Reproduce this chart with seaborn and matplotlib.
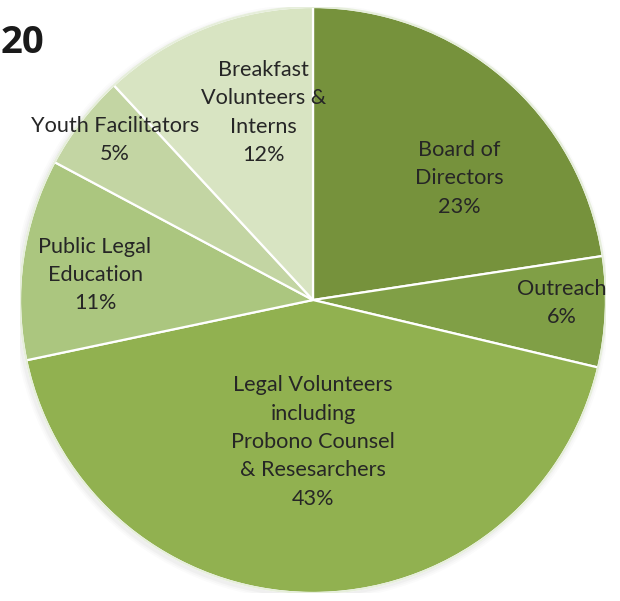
import matplotlib
matplotlib.use("Agg")
import matplotlib.pyplot as plt
import seaborn as sns
from matplotlib.patches import Circle

# ---- data ----
categories = [
    "Board of\nDirectors",
    "Outreach",
    "Legal Volunteers\nincluding\nProbono Counsel\n& Resesarchers",
    "Public Legal\nEducation",
    "Youth Facilitators",
    "Breakfast\nVolunteers &\nInterns",
]
shares = [22.6, 6.1, 43.0, 11.1, 5.3, 11.9]
colors = ["#76923c", "#809f46", "#91b150", "#abc67f", "#c3d5a3", "#d8e4c2"]
title_text = "20"

# label placement (layout, in pie data units: centre 0,0 radius 1)
label_xy = [(0.50, 0.415), (0.85, -0.01), (0.0, -0.485), (-0.744, 0.085),
            (-0.675, 0.545), (-0.17, 0.64)]

sns.set_theme(style="white")
plt.rcParams["font.family"] = ["Lato", "DejaVu Sans"]

W, H = 620, 601
fig = plt.figure(figsize=(W / 100, H / 100), dpi=100)
cx, cy, r = 313, 300, 293
ax = fig.add_axes([(cx - r) / W, (H - cy - r) / H, 2 * r / W, 2 * r / H])

# soft shadow
for i, a in enumerate([0.05, 0.04, 0.03]):
    ax.add_patch(Circle((-0.006, -0.008), 1.0 + 0.006 * (i + 1),
                        color="#808080", alpha=a, lw=0, zorder=0))

wedges, _ = ax.pie(
    shares,
    colors=colors,
    startangle=90,
    counterclock=False,
    radius=1.0,
    wedgeprops=dict(edgecolor="white", linewidth=1.6),
)
for w in wedges:
    w.set_zorder(1)
ax.add_patch(Circle((0, 0), 1.0, fill=False, edgecolor="#e6eedb", lw=1.5, zorder=2))

for cat, val, (x, y) in zip(categories, shares, label_xy):
    ax.text(x, y, f"{cat}\n{round(val):.0f}%", ha="center", va="center",
            fontsize=15.6, color="#262626", linespacing=1.52, zorder=3)

ax.set_xlim(-1.0, 1.0)
ax.set_ylim(-1.0, 1.0)
ax.set_aspect("equal")
ax.axis("off")

fig.text(1 / W, 1 - 43 / H, title_text, fontsize=27.5, fontweight="bold",
         color="#1a1a1a", ha="left", va="center", family=["Open Sans", "DejaVu Sans"])

fig.savefig("out.png", dpi=100, facecolor="white")
